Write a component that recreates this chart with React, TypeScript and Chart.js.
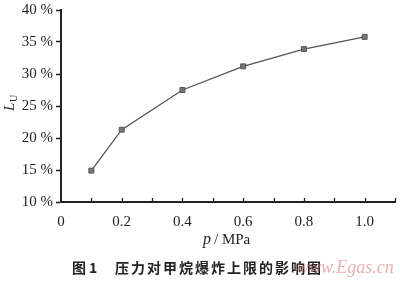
import React, { useEffect, useRef } from "react";
import { Chart, registerables } from "chart.js";

Chart.register(...registerables);

const pressures = [0.1, 0.2, 0.4, 0.6, 0.8, 1.0];
const upperLimits = [14.9, 21.3, 27.5, 31.2, 33.9, 35.8];
const xTickLabels = ["0", "0.2", "0.4", "0.6", "0.8", "1.0"];
const yTickValues = [10, 15, 20, 25, 30, 35, 40];
const caption = "压力对甲烷爆炸上限的影响图";

const textPlugin = {
  id: "textPlugin",
  afterDraw(chart: any) {
    const ctx = chart.ctx;
    const xs = chart.scales.x;
    const area = chart.chartArea;
    ctx.save();
    // inward x ticks
    ctx.strokeStyle = "#222";
    ctx.lineWidth = 1.3;
    for (let i = 1; i <= 11; i++) {
      const px = Math.round(xs.getPixelForValue(i / 10)) + 0.5;
      ctx.beginPath();
      ctx.moveTo(px, area.bottom);
      ctx.lineTo(px, area.bottom - 4);
      ctx.stroke();
    }
    // y title L_U
    ctx.fillStyle = "#222";
    ctx.save();
    ctx.translate(14, 104);
    ctx.rotate(-Math.PI / 2);
    ctx.textBaseline = "alphabetic";
    ctx.textAlign = "left";
    ctx.font = "italic 15px 'Liberation Serif'";
    ctx.fillText("L", -7, 0);
    ctx.font = "10px 'Liberation Serif'";
    ctx.fillText("U", 2, 3);
    ctx.restore();
    // x title
    ctx.textBaseline = "middle";
    ctx.textAlign = "left";
    ctx.font = "italic 16px 'Liberation Serif'";
    ctx.fillText("p", 203, 240);
    ctx.font = "15px 'Liberation Serif'";
    ctx.fillText("/ MPa", 214, 240);
    // caption
    ctx.font = "bold 14px 'Noto Sans CJK SC'";
    ctx.fillText("图", 72, 268);
    ctx.fillText("1", 89, 268);
    let x = 115;
    for (const ch of caption) {
      ctx.fillText(ch, x, 268);
      x += 16;
    }
    // watermark
    ctx.globalAlpha = 0.55;
    ctx.fillStyle = "#d9706f";
    ctx.font = "italic 18px 'Liberation Serif'";
    ctx.fillText("www.Egas.cn", 297, 268);
    ctx.restore();
  },
};

export default function App() {
  const ref = useRef<HTMLCanvasElement>(null);
  useEffect(() => {
    if (!ref.current) return;
    const chart = new Chart(ref.current, {
      type: "scatter",
      data: {
        datasets: [
          {
            data: pressures.map((p, i) => ({ x: p, y: upperLimits[i] })),
            showLine: true,
            borderColor: "#555",
            borderWidth: 1.3,
            pointStyle: "rect",
            pointRadius: 3.5,
            pointBackgroundColor: "#777",
            pointBorderColor: "#555",
            pointBorderWidth: 1,
          },
        ],
      },
      options: {
        responsive: false,
        animation: false,
        layout: { padding: { top: 10, right: 3, left: 0, bottom: 0 } },
        plugins: { legend: { display: false }, tooltip: { enabled: false } },
        scales: {
          x: {
            type: "linear",
            min: 0,
            max: 1.1,
            afterFit: (s: any) => {
              s.height = 80;
              s.paddingLeft = 0;
              s.paddingRight = 0;
            },
            afterBuildTicks: (s: any) => {
              s.ticks = [];
              for (let i = 0; i <= 11; i++) s.ticks.push({ value: i / 10 });
            },
            grid: { display: false, drawTicks: false },
            border: { display: true, color: "#222", width: 2 },
            ticks: {
              autoSkip: false,
              maxRotation: 0,
              padding: 11,
              color: "#222",
              font: { family: "'Liberation Serif'", size: 15 },
              callback: (v: any) => {
                const idx = Math.round(Number(v) * 5);
                const isEven = Math.abs(Number(v) * 5 - idx) < 1e-6;
                return isEven && idx < xTickLabels.length ? xTickLabels[idx] : "";
              },
            },
          },
          y: {
            type: "linear",
            min: yTickValues[0],
            max: yTickValues[yTickValues.length - 1],
            afterFit: (s: any) => {
              s.width = 61;
              s.paddingTop = 0;
              s.paddingBottom = 0;
            },
            afterBuildTicks: (s: any) => {
              s.ticks = yTickValues.map((v) => ({ value: v }));
            },
            grid: {
              display: true,
              drawOnChartArea: false,
              drawTicks: true,
              tickLength: 5,
              tickColor: "#222",
              tickWidth: 1.5,
            },
            border: { display: true, color: "#222", width: 2 },
            ticks: {
              padding: 3,
              color: "#222",
              font: { family: "'Liberation Serif'", size: 15 },
              callback: (v: any) => `${v} %`,
            },
          },
        },
      },
      plugins: [textPlugin],
    } as any);
    return () => chart.destroy();
  }, []);
  return (
    <div style={{ position: "fixed", left: 0, top: 0, width: 400, height: 282, background: "#fff" }}>
      <canvas ref={ref} width={400} height={282} style={{ width: 400, height: 282 }} />
    </div>
  );
}
